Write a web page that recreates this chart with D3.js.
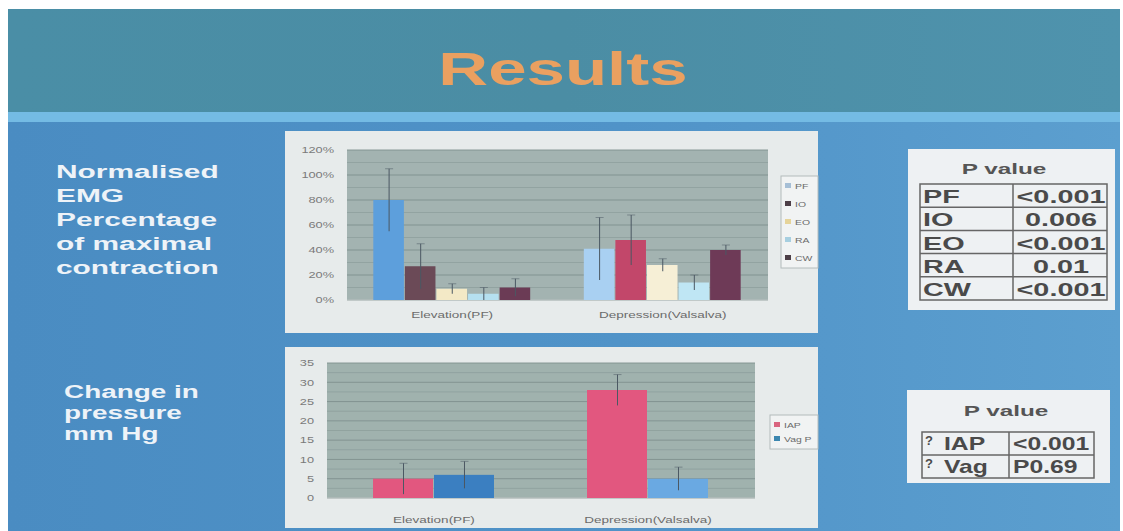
<!DOCTYPE html>
<html>
<head>
<meta charset="utf-8">
<script src="https://cdn.jsdelivr.net/npm/d3@7"></script>
<style>
  html, body { margin: 0; padding: 0; background: #fff; }
  svg { display: block; font-family: "Liberation Sans", Arial, sans-serif; }
</style>
</head>
<body>
<svg id="slide" width="1123" height="531"></svg>
<script>
// --- EMG chart data (percentage of maximal contraction) ---
const groups = ['Elevation(PF)', 'Depression(Valsalva)'];
const emgSeries = ['PF', 'IO', 'EO', 'RA', 'CW'];
const emgElevation = [80, 27, 9, 5, 10];
const emgDepression = [41, 48, 28, 14, 40];
const emgElevationErr = [25, 18, 4, 5, 7];
const emgDepressionErr = [25, 20, 5, 6, 4];
const emgTicks = [0, 20, 40, 60, 80, 100, 120];
const emgPValues = ['<0.001', '0.006', '<0.001', '0.01', '<0.001'];

// --- pressure chart data (mm Hg) ---
const pressSeries = ['IAP', 'Vag P'];
const pressElevation = [5, 6];
const pressDepression = [28, 5];
const pressElevationErr = [4, 3.5];
const pressDepressionErr = [4, 3];
const pressTicks = [0, 5, 10, 15, 20, 25, 30, 35];
const pressRows = ['IAP', 'Vag'];
const pressPValues = ['<0.001', 'P0.69'];

const leftLabelEmg = ['Normalised', 'EMG', 'Percentage', 'of maximal', 'contraction'];
const leftLabelPress = ['Change in', 'pressure', 'mm Hg'];

// colours (the slide colours each bar separately)
const emgColors = [
  ['#5d9fdc', '#6b4a57', '#f3e9c6', '#b5e0f0', '#6b3b55'],
  ['#a9d0f2', '#c2476a', '#f6efd6', '#bfe6f4', '#6e3a57']
];
const emgLegendColors = ['#a6bfd6', '#4d3f47', '#e6d49a', '#a7cfe0', '#4d3f47'];
const pressColors = [['#e2577f', '#3b7fc1'], ['#e2577f', '#6aa9e2']];
const pressLegendColors = ['#d9657f', '#3c87b0'];

const svg = d3.select('#slide');

// the photo is stretched sideways, so text is widened to match
function stretch(sel, k) {
  sel.each(function () {
    const w = this.getComputedTextLength();
    d3.select(this).attr('textLength', w * k).attr('lengthAdjust', 'spacingAndGlyphs');
  });
}

// --- background ---
const defs = svg.append('defs');
const bodyGrad = defs.append('linearGradient').attr('id', 'body');
bodyGrad.append('stop').attr('offset', '0%').attr('stop-color', '#4a8cc2');
bodyGrad.append('stop').attr('offset', '55%').attr('stop-color', '#5093c8');
bodyGrad.append('stop').attr('offset', '100%').attr('stop-color', '#5c9fcf');
const headGrad = defs.append('linearGradient').attr('id', 'head');
headGrad.append('stop').attr('offset', '0%').attr('stop-color', '#4a8ea6');
headGrad.append('stop').attr('offset', '50%').attr('stop-color', '#4b8da4');
headGrad.append('stop').attr('offset', '100%').attr('stop-color', '#4f93ad');

svg.append('rect').attr('x', 8).attr('y', 9).attr('width', 1112).attr('height', 103).attr('fill', 'url(#head)');
svg.append('rect').attr('x', 8).attr('y', 112).attr('width', 1112).attr('height', 10).attr('fill', '#74bbe4');
svg.append('rect').attr('x', 8).attr('y', 122).attr('width', 1112).attr('height', 409).attr('fill', 'url(#body)');

svg.append('text')
  .attr('x', 563).attr('y', 85)
  .attr('text-anchor', 'middle')
  .attr('font-size', 46).attr('font-weight', 'bold')
  .attr('fill', '#eaa060')
  .text('Results')
  .call(stretch, 1.5);

svg.append('g').selectAll('text')
  .data(leftLabelEmg)
  .join('text')
  .attr('x', 56).attr('y', (d, i) => 178 + i * 24)
  .attr('font-size', 18).attr('font-weight', 'bold')
  .attr('fill', '#eef3f8')
  .text(d => d)
  .call(stretch, 1.66);

svg.append('g').selectAll('text')
  .data(leftLabelPress)
  .join('text')
  .attr('x', 64).attr('y', (d, i) => 398 + i * 21)
  .attr('font-size', 18).attr('font-weight', 'bold')
  .attr('fill', '#eef3f8')
  .text(d => d)
  .call(stretch, 1.55);

// --- bar chart with error bars ---
function barChart(cfg) {
  const g = svg.append('g');

  g.append('rect')
    .attr('x', cfg.panel.x).attr('y', cfg.panel.y)
    .attr('width', cfg.panel.w).attr('height', cfg.panel.h)
    .attr('fill', '#e7ebeb');

  const x0 = d3.scaleBand()
    .domain(groups)
    .range([cfg.left, cfg.right])
    .paddingInner(cfg.padInner)
    .paddingOuter(cfg.padInner / 2);

  const x1 = d3.scaleBand()
    .domain(cfg.series)
    .range([0, x0.bandwidth()]);

  const y = d3.scaleLinear()
    .domain([0, cfg.max])
    .range([cfg.bottom, cfg.top]);

  g.append('rect')
    .attr('x', cfg.left).attr('y', cfg.top)
    .attr('width', cfg.right - cfg.left).attr('height', cfg.bottom - cfg.top)
    .attr('fill', cfg.plotFill);

  // grid
  g.append('g')
    .selectAll('line')
    .data(d3.range(0, cfg.max + 0.001, cfg.minor))
    .join('line')
    .attr('x1', cfg.left).attr('x2', cfg.right)
    .attr('y1', d => y(d)).attr('y2', d => y(d))
    .attr('stroke', '#7f908e')
    .attr('stroke-opacity', d => (d % cfg.step === 0 ? 0.9 : 0.45))
    .attr('stroke-width', 1);

  const yAxis = g.append('g')
    .attr('transform', `translate(${cfg.left - 10},0)`)
    .call(d3.axisLeft(y).tickValues(cfg.ticks).tickSize(0).tickFormat(cfg.format));
  yAxis.select('.domain').remove();
  yAxis.selectAll('text')
    .attr('font-size', 8.5)
    .attr('font-family', '"Liberation Sans", Arial, sans-serif')
    .attr('fill', '#7a7a7a')
    .call(stretch, 1.5);

  g.append('line')
    .attr('x1', cfg.left).attr('x2', cfg.right)
    .attr('y1', cfg.bottom).attr('y2', cfg.bottom)
    .attr('stroke', '#c9cfcf');

  const rows = groups.map((name, gi) => ({
    name,
    bars: cfg.series.map((s, si) => ({
      s, gi, v: cfg.values[gi][si], e: cfg.errors[gi][si], c: cfg.colors[gi][si]
    }))
  }));

  const grp = g.append('g')
    .selectAll('g')
    .data(rows)
    .join('g')
    .attr('transform', d => `translate(${x0(d.name)},0)`);

  grp.selectAll('rect')
    .data(d => d.bars)
    .join('rect')
    .attr('x', d => x1(d.s))
    .attr('y', d => y(d.v))
    .attr('width', x1.bandwidth() - 1)
    .attr('height', d => y(0) - y(d.v))
    .attr('fill', d => d.c);

  const err = grp.selectAll('g.err')
    .data(d => d.bars)
    .join('g')
    .attr('class', 'err')
    .attr('stroke', '#4b5863')
    .attr('stroke-width', 1);
  err.append('line')
    .attr('x1', d => x1(d.s) + x1.bandwidth() / 2)
    .attr('x2', d => x1(d.s) + x1.bandwidth() / 2)
    .attr('y1', d => y(Math.max(0, d.v - d.e)))
    .attr('y2', d => y(d.v + d.e));
  err.append('line')
    .attr('stroke-opacity', 0.5)
    .attr('x1', d => x1(d.s) + x1.bandwidth() / 2 - 4)
    .attr('x2', d => x1(d.s) + x1.bandwidth() / 2 + 4)
    .attr('y1', d => y(d.v + d.e))
    .attr('y2', d => y(d.v + d.e));

  g.append('g')
    .selectAll('text')
    .data(groups)
    .join('text')
    .attr('x', d => x0(d) + x0.bandwidth() / 2)
    .attr('y', cfg.labelY)
    .attr('text-anchor', 'middle')
    .attr('font-size', 9)
    .attr('fill', '#6c6c6c')
    .text(d => d)
    .call(stretch, 1.5);

  // legend
  const lg = g.append('g');
  lg.append('rect')
    .attr('x', cfg.legend.x).attr('y', cfg.legend.y)
    .attr('width', cfg.panel.x + cfg.panel.w - cfg.legend.x)
    .attr('height', cfg.legend.h)
    .attr('fill', '#f1f3f3').attr('stroke', '#b4bcbc');
  const items = lg.selectAll('g')
    .data(cfg.series)
    .join('g')
    .attr('transform', (d, i) => `translate(${cfg.legend.x + 4},${cfg.legend.y + cfg.legend.first + i * cfg.legend.gap})`);
  items.append('rect')
    .attr('x', 0).attr('y', -3).attr('width', 6).attr('height', 5)
    .attr('fill', (d, i) => cfg.legendColors[i]);
  items.append('text')
    .attr('x', 10).attr('y', 3)
    .attr('font-size', 8)
    .attr('fill', '#6a6a6a')
    .text(d => d)
    .call(stretch, 1.3);
}

barChart({
  panel: { x: 285, y: 131, w: 533, h: 202 },
  left: 347, right: 768, top: 150, bottom: 300,
  padInner: 0.25,
  series: emgSeries,
  values: [emgElevation, emgDepression],
  errors: [emgElevationErr, emgDepressionErr],
  colors: emgColors,
  legendColors: emgLegendColors,
  max: 120, step: 20, minor: 10,
  ticks: emgTicks,
  format: d => d + '%',
  plotFill: '#a3b3b1',
  labelY: 318,
  legend: { x: 781, y: 176, h: 92, first: 10, gap: 18 }
});

barChart({
  panel: { x: 285, y: 347, w: 533, h: 181 },
  left: 327, right: 755, top: 363, bottom: 498,
  padInner: 0.43,
  series: pressSeries,
  values: [pressElevation, pressDepression],
  errors: [pressElevationErr, pressDepressionErr],
  colors: pressColors,
  legendColors: pressLegendColors,
  max: 35, step: 5, minor: 2.5,
  ticks: pressTicks,
  format: d => d,
  plotFill: '#a0b2ae',
  labelY: 523,
  legend: { x: 770, y: 415, h: 34, first: 10, gap: 14 }
});

// --- P value tables ---
function pTable(cfg) {
  const g = svg.append('g');
  g.append('rect')
    .attr('x', cfg.box.x).attr('y', cfg.box.y)
    .attr('width', cfg.box.w).attr('height', cfg.box.h)
    .attr('fill', '#eef1f3');
  g.append('text')
    .attr('x', cfg.titleX).attr('y', cfg.titleY)
    .attr('text-anchor', 'middle')
    .attr('font-size', 15).attr('font-weight', 'bold')
    .attr('fill', '#555')
    .text('P value')
    .call(stretch, 1.62);

  const rowY = i => cfg.top + i * cfg.rowH;
  const n = cfg.labels.length;
  g.append('rect')
    .attr('x', cfg.left).attr('y', cfg.top)
    .attr('width', cfg.right - cfg.left).attr('height', n * cfg.rowH)
    .attr('fill', 'none').attr('stroke', '#666').attr('stroke-width', 1.5);
  g.append('line')
    .attr('x1', cfg.mid).attr('x2', cfg.mid)
    .attr('y1', cfg.top).attr('y2', rowY(n))
    .attr('stroke', '#666').attr('stroke-width', 1.5);
  g.append('g').selectAll('line')
    .data(d3.range(1, n))
    .join('line')
    .attr('x1', cfg.left).attr('x2', cfg.right)
    .attr('y1', rowY).attr('y2', rowY)
    .attr('stroke', '#666').attr('stroke-width', 1.5);

  g.append('g').selectAll('text')
    .data(cfg.labels)
    .join('text')
    .attr('x', cfg.labelX)
    .attr('y', (d, i) => rowY(i + 1) - cfg.baseOff)
    .attr('font-size', cfg.fontSize).attr('font-weight', 'bold')
    .attr('fill', '#4a4a4a')
    .text(d => d)
    .call(stretch, cfg.k);

  g.append('g').selectAll('text')
    .data(cfg.values)
    .join('text')
    .attr('x', cfg.valueX)
    .attr('y', (d, i) => rowY(i + 1) - cfg.baseOff)
    .attr('text-anchor', cfg.valueAnchor)
    .attr('font-size', cfg.fontSize).attr('font-weight', 'bold')
    .attr('fill', '#4a4a4a')
    .text(d => d)
    .call(stretch, cfg.k);

  if (cfg.marks) {
    g.append('g').selectAll('text')
      .data(cfg.labels)
      .join('text')
      .attr('x', cfg.left + 3)
      .attr('y', (d, i) => rowY(i) + 13)
      .attr('font-size', 13).attr('font-weight', 'bold')
      .attr('fill', '#4a4a4a')
      .text('?');
  }
}

pTable({
  box: { x: 908, y: 149, w: 207, h: 161 },
  titleX: 1004, titleY: 174,
  left: 920, mid: 1013, right: 1107, top: 184, rowH: 23.2,
  labels: emgSeries, values: emgPValues,
  labelX: 923, valueX: 1061, valueAnchor: 'middle',
  fontSize: 18, k: 1.6, baseOff: 4
});

pTable({
  box: { x: 907, y: 390, w: 203, h: 93 },
  titleX: 1006, titleY: 416,
  left: 922, mid: 1009, right: 1094, top: 432, rowH: 23,
  labels: pressRows, values: pressPValues,
  labelX: 944, valueX: 1013, valueAnchor: 'start',
  fontSize: 19, k: 1.3, baseOff: 5, marks: true
});
</script>
</body>
</html>
